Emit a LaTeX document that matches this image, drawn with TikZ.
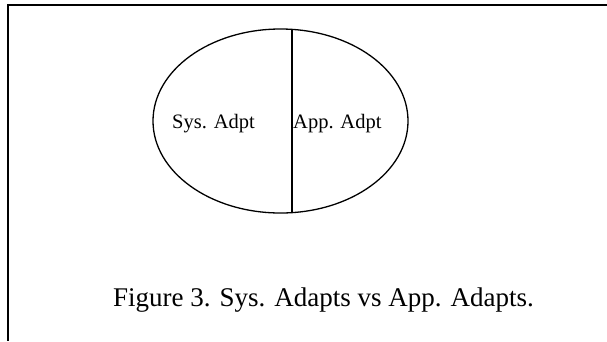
\documentclass[tikz,border=0pt]{standalone}
\usepackage{fontspec}
\setmainfont{Liberation Serif}
\usetikzlibrary{shapes.geometric}
\begin{document}
\begin{tikzpicture}[x=1pt,y=-1pt,
  frame/.style={line width=1.8pt,black},
  oval/.style={line width=1.3pt,black},
  lbl/.style={font=\fontsize{20.5}{24}\selectfont,inner sep=0pt,anchor=base west},
  captext/.style={font=\fontsize{27}{32}\selectfont,inner sep=0pt,anchor=base}]
\useasboundingbox (0,0) rectangle (607,341);
\coordinate (tl) at (8,5);
\coordinate (tr) at (607,5);
\coordinate (bl) at (8,341);
\draw[frame] (tr) -- (tl) -- (bl);
\node[draw,oval,ellipse,minimum width=255pt,minimum height=184pt,inner sep=0pt] (e) at (280.5,121) {};
\coordinate (vt) at (292,29);
\coordinate (vb) at (292,213);
\draw[line width=1.3pt] (vt) -- (vb);
\node[lbl] (sys) at (172,128) {Sys. Adpt};
\node[lbl] (app) at (293,128) {App. Adpt};
\node[captext] (caption) at (323.5,306) {Figure 3. Sys. Adapts vs App. Adapts.};
\end{tikzpicture}
\end{document}
